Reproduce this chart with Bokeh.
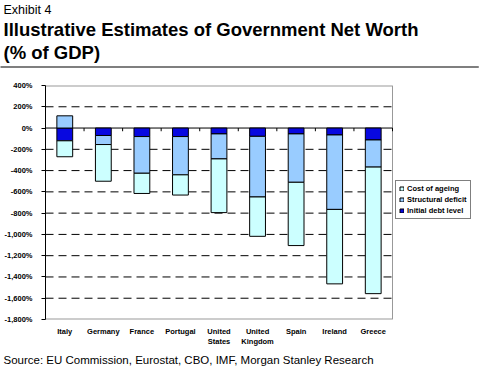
from bokeh.plotting import figure
from bokeh.models import (Range1d, FixedTicker, CustomJSTickFormatter, Title,
                          Legend, LegendItem, ColumnDataSource)
from bokeh.embed import file_html
from bokeh.resources import INLINE

countries = ["Italy", "Germany", "France", "Portugal", "United\nStates",
             "United\nKingdom", "Spain", "Ireland", "Greece"]
initial_debt = [-120, -70, -80, -80, -55, -78, -55, -65, -112]
structural_deficit = [115, -85, -345, -360, -235, -570, -455, -700, -255]
cost_of_ageing = [-150, -345, -190, -190, -505, -370, -595, -700, -1190]
y_ticks = list(range(400, -1801, -200))

FONT = "Liberation Sans"
C_AGE = "#CCFFFF"
C_STRUCT = "#99CCFF"
C_DEBT = "#0808E0"
C_BORDER = "#999999"

n = len(countries)
xs = list(range(n))
y_max, y_min = y_ticks[0], y_ticks[-1]
x_lo, x_hi = -0.5, n - 0.5

# layout geometry (pixels): plot area 347 px wide, frame extended right for the legend
LEFT, RIGHT = 45, 4
CHART_PX = 347
FRAME_PX = 488 - LEFT - RIGHT
x_end = x_lo + FRAME_PX / (CHART_PX / n)

debt_top = [0] * n
debt_bot = list(initial_debt)
st_top, st_bot, ag_top, ag_bot = [], [], [], []
for d, s, a in zip(initial_debt, structural_deficit, cost_of_ageing):
    if s >= 0:
        st_top.append(s); st_bot.append(0)
        start = d
    else:
        st_top.append(d); st_bot.append(d + s)
        start = d + s
    ag_top.append(start); ag_bot.append(start + a)

src = ColumnDataSource(dict(x=xs, debt_top=debt_top, debt_bot=debt_bot,
                            st_top=st_top, st_bot=st_bot, ag_top=ag_top, ag_bot=ag_bot))

p = figure(width=488, height=368, output_backend="svg", toolbar_location=None,
           x_range=Range1d(x_lo, x_end), y_range=Range1d(y_min, y_max),
           min_border_left=LEFT, min_border_right=RIGHT, min_border_top=0, min_border_bottom=0,
           title=None)
p.background_fill_color = "white"
p.border_fill_color = "white"
p.outline_line_color = None
p.xgrid.grid_line_color = None
p.ygrid.grid_line_color = None

p.yaxis.ticker = FixedTicker(ticks=y_ticks)
p.yaxis.formatter = CustomJSTickFormatter(code="return tick.toLocaleString('en-US') + '%';")
p.yaxis.major_label_text_font = FONT
p.yaxis.major_label_text_font_size = "7.5px"
p.yaxis.major_label_text_font_style = "bold"
p.yaxis.major_label_text_color = "black"
p.yaxis.major_tick_out = 4
p.yaxis.major_tick_in = 0
p.yaxis.major_tick_line_color = "black"
p.yaxis.minor_tick_line_color = None
p.yaxis.axis_line_color = "black"
p.yaxis.major_label_standoff = 9

p.xaxis.ticker = FixedTicker(ticks=xs)
p.xaxis.major_label_overrides = {i: c for i, c in zip(xs, countries)}
p.xaxis.major_label_text_font = FONT
p.xaxis.major_label_text_font_size = "7.5px"
p.xaxis.major_label_text_font_style = "bold"
p.xaxis.major_label_text_color = "black"
p.xaxis.axis_line_color = None
p.xaxis.major_tick_line_color = None
p.xaxis.major_tick_out = 0
p.xaxis.major_tick_in = 0
p.xaxis.minor_tick_line_color = None
p.xaxis.minor_tick_out = 0
p.xaxis.major_label_standoff = 7

# plot-area border (grey), dashed grid, zero line with category ticks
p.segment(x0=[x_lo, x_lo], x1=[x_hi, x_hi], y0=[y_max, y_min], y1=[y_max, y_min],
          line_color=C_BORDER, line_width=2)
p.segment(x0=[x_hi], x1=[x_hi], y0=[y_min], y1=[y_max], line_color=C_BORDER, line_width=1)
grid_vals = [t for t in y_ticks if t not in (y_max, 0, y_min)]
m = len(grid_vals)
p.segment(x0=[x_lo] * m, x1=[x_hi] * m, y0=grid_vals, y1=grid_vals,
          line_color="black", line_width=1, line_dash="8 5")
p.segment(x0=[x_lo], x1=[x_hi], y0=[0], y1=[0], line_color="black", line_width=1)
bounds = [i + 0.5 for i in xs]
p.segment(x0=bounds, y0=[0] * n, x1=bounds, y1=[-30] * n, line_color="black", line_width=1)

W = 0.41
r_debt = p.vbar(x="x", top="debt_top", bottom="debt_bot", width=W, source=src,
                fill_color=C_DEBT, line_color="black", line_width=1)
r_st = p.vbar(x="x", top="st_top", bottom="st_bot", width=W, source=src,
              fill_color=C_STRUCT, line_color="black", line_width=1)
r_age = p.vbar(x="x", top="ag_top", bottom="ag_bot", width=W, source=src,
               fill_color=C_AGE, line_color="black", line_width=1)

legend = Legend(items=[LegendItem(label="Cost of ageing", renderers=[r_age]),
                       LegendItem(label="Structural deficit", renderers=[r_st]),
                       LegendItem(label="Initial debt level", renderers=[r_debt])],
                location=(CHART_PX + 3, 100))
legend.border_line_color = "black"
legend.border_line_width = 1
legend.label_text_font = FONT
legend.label_text_font_size = "7.5px"
legend.label_text_font_style = "bold"
legend.label_text_color = "black"
legend.glyph_width = 5
legend.glyph_height = 5
legend.label_height = 8
legend.spacing = 2
legend.padding = 3
legend.margin = 0
legend.label_standoff = 3
legend.background_fill_alpha = 1
p.add_layout(legend)

# header titles (stacked outward from the frame)
p.add_layout(Title(text=" ", text_font_size="1px", standoff=13,
                   align="left", offset=-LEFT), "above")
p.add_layout(Title(text=" ", text_font_size="1px", background_fill_color="black",
                   padding=dict(left=0, right=478, top=0, bottom=0),
                   align="left", offset=-LEFT, standoff=4), "above")
p.add_layout(Title(text="(% of GDP)", text_font=FONT, text_font_size="18.5px",
                   text_font_style="bold", text_color="black",
                   align="left", offset=-42, standoff=0), "above")
p.add_layout(Title(text="Illustrative Estimates of Government Net Worth",
                   text_font=FONT, text_font_size="18.5px", text_font_style="bold",
                   text_color="black", align="left", offset=-42, standoff=0), "above")
p.add_layout(Title(text="Exhibit 4", text_font=FONT, text_font_size="12.5px",
                   text_color="black", text_font_style="normal",
                   align="left", offset=-42, standoff=0), "above")
# footer
p.add_layout(Title(text="Source: EU Commission, Eurostat, CBO, IMF, Morgan Stanley Research",
                   text_font=FONT, text_font_size="11.5px", text_font_style="normal",
                   text_color="black", align="left", offset=-42, standoff=5), "below")

open("out.html", "w").write(file_html(p, INLINE))
